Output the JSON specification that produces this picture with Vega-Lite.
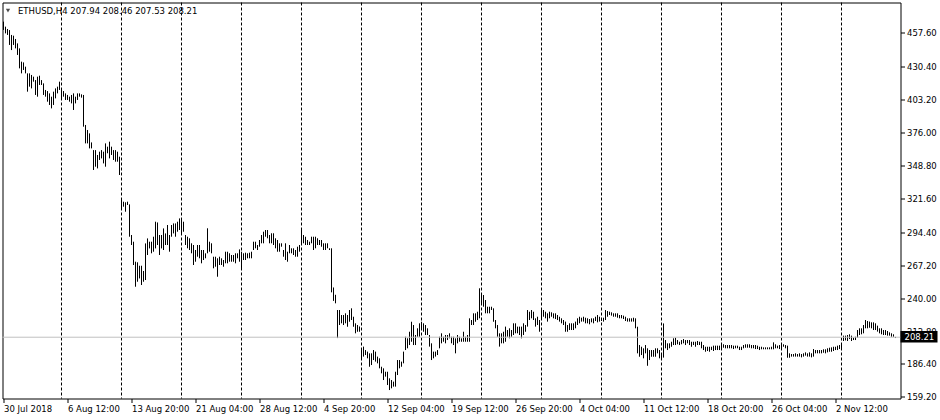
{
"$schema": "https://vega.github.io/schema/vega-lite/v6.json",
"width": 898,
"height": 396,
"autosize": {"type": "none"},
"padding": {"left": 2.5, "top": 2.5, "right": 39.5, "bottom": 21.5},
"background": "#ffffff",
"config": {
  "view": {"stroke": "#000000", "strokeWidth": 1},
  "font": "DejaVu Sans"
},
"resolve": {"axis": {"x": "independent", "y": "independent"}},
"layer": [
  {
    "data": {"values": [
{"i":0,"l":460.1,"h":466.9},{"i":1,"l":457.3,"h":462.8},{"i":2,"l":456.0,"h":460.9},{"i":3,"l":447.8,"h":460.0},{"i":4,"l":443.6,"h":456.0},{"i":5,"l":447.8,"h":455.4},{"i":6,"l":445.0,"h":452.7},{"i":7,"l":439.6,"h":449.1},{"i":8,"l":428.6,"h":445.0},{"i":9,"l":424.5,"h":434.1},
{"i":10,"l":427.3,"h":433.5},{"i":11,"l":424.5,"h":430.0},{"i":12,"l":409.5,"h":424.5},{"i":13,"l":413.6,"h":424.5},{"i":14,"l":412.2,"h":423.2},{"i":15,"l":417.7,"h":421.8},{"i":16,"l":406.8,"h":419.0},{"i":17,"l":405.4,"h":421.8},{"i":18,"l":415.0,"h":422.6},{"i":19,"l":415.0,"h":419.0},
{"i":20,"l":406.8,"h":416.3},{"i":21,"l":405.4,"h":410.9},{"i":22,"l":401.3,"h":410.0},{"i":23,"l":398.6,"h":408.1},{"i":24,"l":395.8,"h":405.4},{"i":25,"l":398.6,"h":409.5},{"i":26,"l":404.0,"h":412.2},{"i":27,"l":408.1,"h":413.6},{"i":28,"l":410.9,"h":417.7},{"i":29,"l":402.7,"h":410.9},
{"i":30,"l":405.4,"h":410.0},{"i":31,"l":402.7,"h":408.1},{"i":32,"l":402.7,"h":406.8},{"i":33,"l":401.3,"h":405.4},{"i":34,"l":399.9,"h":406.8},{"i":35,"l":394.5,"h":408.1},{"i":36,"l":399.9,"h":405.4},{"i":37,"l":402.7,"h":408.1},{"i":38,"l":405.4,"h":408.1},{"i":39,"l":404.6,"h":407.3},
{"i":40,"l":380.8,"h":406.8},{"i":41,"l":367.1,"h":382.2},{"i":42,"l":367.1,"h":378.1},{"i":43,"l":363.0,"h":375.3},{"i":44,"l":363.0,"h":367.9},{"i":45,"l":345.3,"h":361.6},{"i":46,"l":348.0,"h":361.6},{"i":47,"l":346.6,"h":357.6},{"i":48,"l":353.5,"h":360.3},{"i":49,"l":354.8,"h":361.6},
{"i":50,"l":350.7,"h":360.3},{"i":51,"l":348.0,"h":367.1},{"i":52,"l":359.0,"h":364.4},{"i":53,"l":354.8,"h":368.5},{"i":54,"l":357.6,"h":364.4},{"i":55,"l":353.5,"h":361.6},{"i":56,"l":352.1,"h":361.6},{"i":57,"l":352.1,"h":360.3},{"i":58,"l":341.2,"h":356.2},{"i":59,"l":313.8,"h":320.7},
{"i":60,"l":315.2,"h":319.3},{"i":61,"l":311.1,"h":318.8},{"i":62,"l":316.6,"h":319.3},{"i":63,"l":290.6,"h":317.1},{"i":64,"l":283.8,"h":292.0},{"i":65,"l":267.4,"h":286.5},{"i":66,"l":249.6,"h":270.1},{"i":67,"l":253.7,"h":269.6},{"i":68,"l":256.4,"h":266.8},{"i":69,"l":251.0,"h":266.8},
{"i":70,"l":253.7,"h":262.5},{"i":71,"l":255.1,"h":285.1},{"i":72,"l":275.6,"h":289.2},{"i":73,"l":281.0,"h":286.5},{"i":74,"l":277.0,"h":286.5},{"i":75,"l":278.3,"h":290.6},{"i":76,"l":281.0,"h":302.9},{"i":77,"l":283.8,"h":302.3},{"i":78,"l":275.6,"h":292.0},{"i":79,"l":281.0,"h":292.0},
{"i":80,"l":279.7,"h":297.4},{"i":81,"l":283.8,"h":293.3},{"i":82,"l":283.8,"h":300.2},{"i":83,"l":278.3,"h":292.0},{"i":84,"l":290.6,"h":300.2},{"i":85,"l":293.3,"h":301.5},{"i":86,"l":290.6,"h":301.5},{"i":87,"l":294.7,"h":302.9},{"i":88,"l":296.1,"h":305.6},{"i":89,"l":293.4,"h":305.0},
{"i":90,"l":294.7,"h":302.9},{"i":91,"l":283.8,"h":292.0},{"i":92,"l":281.1,"h":290.6},{"i":93,"l":279.7,"h":289.3},{"i":94,"l":277.0,"h":285.2},{"i":95,"l":267.4,"h":283.8},{"i":96,"l":270.1,"h":279.7},{"i":97,"l":274.2,"h":283.8},{"i":98,"l":272.9,"h":283.8},{"i":99,"l":268.8,"h":279.7},
{"i":100,"l":271.5,"h":279.7},{"i":101,"l":272.9,"h":277.0},{"i":102,"l":277.0,"h":297.5},{"i":103,"l":278.3,"h":286.5},{"i":104,"l":277.0,"h":285.2},{"i":105,"l":264.7,"h":274.2},{"i":106,"l":266.0,"h":274.2},{"i":107,"l":257.8,"h":272.9},{"i":108,"l":267.4,"h":274.2},{"i":109,"l":267.4,"h":272.9},
{"i":110,"l":266.0,"h":271.5},{"i":111,"l":268.8,"h":278.3},{"i":112,"l":268.8,"h":278.3},{"i":113,"l":270.1,"h":277.0},{"i":114,"l":270.1,"h":275.6},{"i":115,"l":270.1,"h":275.6},{"i":116,"l":268.8,"h":277.0},{"i":117,"l":272.9,"h":277.0},{"i":118,"l":270.1,"h":280.2},{"i":119,"l":264.7,"h":278.3},
{"i":120,"l":271.5,"h":277.0},{"i":121,"l":271.5,"h":277.5},{"i":122,"l":272.9,"h":277.0},{"i":123,"l":272.9,"h":277.5},{"i":124,"l":272.9,"h":278.3},{"i":125,"l":279.7,"h":286.5},{"i":126,"l":281.1,"h":286.5},{"i":127,"l":279.7,"h":283.8},{"i":128,"l":282.4,"h":287.9},{"i":129,"l":285.2,"h":292.0},
{"i":130,"l":285.2,"h":294.7},{"i":131,"l":290.6,"h":296.1},{"i":132,"l":289.3,"h":296.1},{"i":133,"l":285.2,"h":292.0},{"i":134,"l":285.2,"h":293.4},{"i":135,"l":283.8,"h":293.4},{"i":136,"l":281.1,"h":289.3},{"i":137,"l":278.3,"h":287.9},{"i":138,"l":278.3,"h":285.2},{"i":139,"l":282.4,"h":285.2},
{"i":140,"l":274.2,"h":279.7},{"i":141,"l":271.5,"h":285.2},{"i":142,"l":270.1,"h":278.3},{"i":143,"l":277.0,"h":283.8},{"i":144,"l":277.0,"h":281.1},{"i":145,"l":275.6,"h":281.1},{"i":146,"l":274.2,"h":279.7},{"i":147,"l":274.2,"h":282.4},{"i":148,"l":278.3,"h":283.8},{"i":149,"l":283.8,"h":296.1},
{"i":150,"l":285.2,"h":292.0},{"i":151,"l":283.8,"h":290.6},{"i":152,"l":283.8,"h":287.9},{"i":153,"l":283.8,"h":286.5},{"i":154,"l":285.2,"h":290.6},{"i":155,"l":279.7,"h":290.6},{"i":156,"l":281.1,"h":290.6},{"i":157,"l":283.8,"h":289.3},{"i":158,"l":283.8,"h":287.9},{"i":159,"l":282.4,"h":287.9},
{"i":160,"l":279.7,"h":285.2},{"i":161,"l":279.7,"h":285.2},{"i":162,"l":281.1,"h":285.2},{"i":163,"l":279.7,"h":281.1},{"i":164,"l":245.0,"h":281.1},{"i":165,"l":238.0,"h":249.0},{"i":166,"l":236.0,"h":243.0},{"i":167,"l":207.5,"h":230.5},{"i":168,"l":218.2,"h":230.5},{"i":169,"l":219.6,"h":226.4},
{"i":170,"l":218.2,"h":226.4},{"i":171,"l":219.6,"h":227.8},{"i":172,"l":216.8,"h":226.4},{"i":173,"l":220.9,"h":230.5},{"i":174,"l":222.3,"h":231.9},{"i":175,"l":216.8,"h":225.0},{"i":176,"l":211.4,"h":219.6},{"i":177,"l":212.7,"h":218.2},{"i":178,"l":212.7,"h":217.0},{"i":179,"l":189.5,"h":199.1},
{"i":180,"l":192.3,"h":200.5},{"i":181,"l":193.6,"h":197.7},{"i":182,"l":190.9,"h":196.4},{"i":183,"l":184.0,"h":195.0},{"i":184,"l":185.4,"h":195.0},{"i":185,"l":189.5,"h":197.7},{"i":186,"l":188.2,"h":196.4},{"i":187,"l":186.8,"h":192.3},{"i":188,"l":182.7,"h":190.9},{"i":189,"l":178.6,"h":184.0},
{"i":190,"l":173.1,"h":182.7},{"i":191,"l":175.9,"h":179.9},{"i":192,"l":169.0,"h":179.9},{"i":193,"l":164.9,"h":174.5},{"i":194,"l":166.3,"h":173.1},{"i":195,"l":167.7,"h":171.8},{"i":196,"l":167.7,"h":179.9},{"i":197,"l":177.2,"h":189.5},{"i":198,"l":182.7,"h":189.5},{"i":199,"l":184.0,"h":188.2},
{"i":200,"l":186.8,"h":196.4},{"i":201,"l":197.7,"h":208.6},{"i":202,"l":199.1,"h":207.3},{"i":203,"l":201.8,"h":212.7},{"i":204,"l":204.5,"h":220.9},{"i":205,"l":201.8,"h":218.2},{"i":206,"l":201.8,"h":210.0},{"i":207,"l":208.6,"h":215.5},{"i":208,"l":208.6,"h":219.6},{"i":209,"l":215.5,"h":220.9},
{"i":210,"l":212.7,"h":219.6},{"i":211,"l":210.0,"h":218.2},{"i":212,"l":210.0,"h":215.5},{"i":213,"l":200.5,"h":210.0},{"i":214,"l":189.5,"h":203.2},{"i":215,"l":190.9,"h":196.4},{"i":216,"l":192.3,"h":196.4},{"i":217,"l":193.6,"h":197.7},{"i":218,"l":199.1,"h":208.6},{"i":219,"l":203.2,"h":211.4},
{"i":220,"l":204.5,"h":208.6},{"i":221,"l":203.2,"h":210.0},{"i":222,"l":205.9,"h":210.0},{"i":223,"l":207.3,"h":211.4},{"i":224,"l":203.2,"h":208.6},{"i":225,"l":201.8,"h":208.6},{"i":226,"l":195.0,"h":207.3},{"i":227,"l":203.2,"h":210.0},{"i":228,"l":204.5,"h":208.6},{"i":229,"l":204.5,"h":207.3},
{"i":230,"l":204.5,"h":212.7},{"i":231,"l":204.5,"h":208.6},{"i":232,"l":204.5,"h":210.0},{"i":233,"l":204.5,"h":223.7},{"i":234,"l":218.2,"h":222.3},{"i":235,"l":218.2,"h":227.8},{"i":236,"l":220.9,"h":227.8},{"i":237,"l":222.3,"h":229.1},{"i":238,"l":223.7,"h":248.3},{"i":239,"l":234.6,"h":242.8},
{"i":240,"l":233.2,"h":242.8},{"i":241,"l":227.8,"h":238.7},{"i":242,"l":227.8,"h":233.2},{"i":243,"l":227.8,"h":233.2},{"i":244,"l":230.5,"h":233.2},{"i":245,"l":220.9,"h":231.9},{"i":246,"l":215.5,"h":222.3},{"i":247,"l":208.6,"h":218.2},{"i":248,"l":200.5,"h":211.4},{"i":249,"l":203.2,"h":211.4},
{"i":250,"l":203.2,"h":212.7},{"i":251,"l":204.5,"h":216.9},{"i":252,"l":208.6,"h":214.1},{"i":253,"l":207.3,"h":215.5},{"i":254,"l":208.6,"h":214.1},{"i":255,"l":210.0,"h":219.6},{"i":256,"l":211.4,"h":219.6},{"i":257,"l":211.4,"h":216.9},{"i":258,"l":210.0,"h":216.9},{"i":259,"l":207.3,"h":216.9},
{"i":260,"l":210.0,"h":219.6},{"i":261,"l":212.7,"h":218.2},{"i":262,"l":216.9,"h":230.5},{"i":263,"l":222.3,"h":229.1},{"i":264,"l":223.7,"h":230.5},{"i":265,"l":222.3,"h":229.1},{"i":266,"l":216.9,"h":223.7},{"i":267,"l":218.2,"h":225.0},{"i":268,"l":212.7,"h":222.3},{"i":269,"l":222.3,"h":231.9},
{"i":270,"l":225.0,"h":230.5},{"i":271,"l":223.7,"h":229.1},{"i":272,"l":221.0,"h":227.8},{"i":273,"l":223.7,"h":229.1},{"i":274,"l":225.0,"h":228.6},{"i":275,"l":223.7,"h":227.8},{"i":276,"l":223.1,"h":227.8},{"i":277,"l":222.3,"h":226.4},{"i":278,"l":221.0,"h":225.0},{"i":279,"l":219.6,"h":223.7},
{"i":280,"l":218.2,"h":222.3},{"i":281,"l":212.7,"h":221.0},{"i":282,"l":212.7,"h":218.2},{"i":283,"l":214.1,"h":219.6},{"i":284,"l":214.1,"h":219.6},{"i":285,"l":214.1,"h":219.6},{"i":286,"l":215.5,"h":221.0},{"i":287,"l":218.2,"h":223.7},{"i":288,"l":219.6,"h":225.0},{"i":289,"l":221.0,"h":224.2},
{"i":290,"l":221.0,"h":225.0},{"i":291,"l":219.6,"h":224.2},{"i":292,"l":219.6,"h":223.7},{"i":293,"l":218.8,"h":223.1},{"i":294,"l":220.4,"h":223.7},{"i":295,"l":219.6,"h":223.7},{"i":296,"l":221.5,"h":225.0},{"i":297,"l":220.4,"h":226.4},{"i":298,"l":221.0,"h":225.0},{"i":299,"l":221.5,"h":223.7},
{"i":300,"l":221.0,"h":224.2},{"i":301,"l":222.3,"h":230.5},{"i":302,"l":225.0,"h":229.7},{"i":303,"l":226.4,"h":229.1},{"i":304,"l":225.9,"h":228.6},{"i":305,"l":225.0,"h":227.8},{"i":306,"l":225.0,"h":227.8},{"i":307,"l":224.2,"h":227.8},{"i":308,"l":223.7,"h":226.4},{"i":309,"l":223.7,"h":226.4},
{"i":310,"l":223.1,"h":225.9},{"i":311,"l":221.5,"h":225.0},{"i":312,"l":221.0,"h":223.7},{"i":313,"l":221.0,"h":223.7},{"i":314,"l":221.0,"h":223.7},{"i":315,"l":221.0,"h":224.2},{"i":316,"l":215.5,"h":223.7},{"i":317,"l":195.0,"h":216.8},{"i":318,"l":192.2,"h":201.8},{"i":319,"l":193.6,"h":200.4},
{"i":320,"l":190.9,"h":199.1},{"i":321,"l":195.0,"h":201.8},{"i":322,"l":184.8,"h":199.1},{"i":323,"l":189.5,"h":197.7},{"i":324,"l":192.2,"h":197.7},{"i":325,"l":192.2,"h":197.7},{"i":326,"l":192.2,"h":199.1},{"i":327,"l":195.0,"h":199.1},{"i":328,"l":190.9,"h":197.7},{"i":329,"l":190.9,"h":193.6},
{"i":330,"l":191.5,"h":219.5},{"i":331,"l":199.1,"h":205.9},{"i":332,"l":197.7,"h":203.2},{"i":333,"l":199.1,"h":203.2},{"i":334,"l":200.4,"h":204.5},{"i":335,"l":201.8,"h":207.3},{"i":336,"l":201.8,"h":207.8},{"i":337,"l":202.4,"h":205.9},{"i":338,"l":201.8,"h":204.5},{"i":339,"l":202.4,"h":205.9},
{"i":340,"l":203.2,"h":206.7},{"i":341,"l":201.8,"h":205.9},{"i":342,"l":203.2,"h":205.9},{"i":343,"l":201.8,"h":205.9},{"i":344,"l":200.4,"h":204.5},{"i":345,"l":201.8,"h":204.5},{"i":346,"l":200.4,"h":204.5},{"i":347,"l":201.8,"h":205.1},{"i":348,"l":201.8,"h":204.5},{"i":349,"l":199.1,"h":204.5},
{"i":350,"l":197.7,"h":201.8},{"i":351,"l":196.3,"h":200.4},{"i":352,"l":196.9,"h":200.4},{"i":353,"l":196.3,"h":200.4},{"i":354,"l":197.7,"h":200.4},{"i":355,"l":196.9,"h":201.3},{"i":356,"l":197.7,"h":201.3},{"i":357,"l":197.7,"h":201.3},{"i":358,"l":197.7,"h":201.3},{"i":359,"l":199.1,"h":202.4},
{"i":360,"l":199.6,"h":202.4},{"i":361,"l":199.1,"h":201.8},{"i":362,"l":199.1,"h":201.8},{"i":363,"l":199.1,"h":201.8},{"i":364,"l":199.1,"h":201.8},{"i":365,"l":198.5,"h":201.3},{"i":366,"l":199.1,"h":201.3},{"i":367,"l":199.1,"h":201.3},{"i":368,"l":197.7,"h":200.4},{"i":369,"l":197.7,"h":200.4},
{"i":370,"l":199.1,"h":201.8},{"i":371,"l":199.6,"h":202.4},{"i":372,"l":199.6,"h":202.4},{"i":373,"l":199.6,"h":202.4},{"i":374,"l":199.1,"h":201.8},{"i":375,"l":199.1,"h":201.8},{"i":376,"l":198.5,"h":201.8},{"i":377,"l":198.5,"h":201.3},{"i":378,"l":197.7,"h":200.4},{"i":379,"l":198.3,"h":200.4},
{"i":380,"l":198.3,"h":199.9},{"i":381,"l":198.3,"h":199.9},{"i":382,"l":198.3,"h":199.9},{"i":383,"l":198.3,"h":199.9},{"i":384,"l":198.3,"h":200.4},{"i":385,"l":198.3,"h":204.0},{"i":386,"l":199.1,"h":202.4},{"i":387,"l":199.1,"h":201.3},{"i":388,"l":198.5,"h":201.8},{"i":389,"l":199.1,"h":202.4},
{"i":390,"l":200.4,"h":202.4},{"i":391,"l":199.1,"h":201.8},{"i":392,"l":191.4,"h":201.3},{"i":393,"l":191.4,"h":195.0},{"i":394,"l":192.3,"h":194.4},{"i":395,"l":192.3,"h":194.4},{"i":396,"l":192.3,"h":195.0},{"i":397,"l":192.3,"h":194.4},{"i":398,"l":192.3,"h":195.0},{"i":399,"l":191.7,"h":194.4},
{"i":400,"l":192.3,"h":195.0},{"i":401,"l":193.1,"h":195.8},{"i":402,"l":192.3,"h":195.0},{"i":403,"l":192.3,"h":195.8},{"i":404,"l":191.7,"h":195.0},{"i":405,"l":192.3,"h":198.5},{"i":406,"l":195.0,"h":197.7},{"i":407,"l":195.0,"h":197.7},{"i":408,"l":195.0,"h":197.7},{"i":409,"l":195.0,"h":197.7},
{"i":410,"l":195.5,"h":198.3},{"i":411,"l":195.0,"h":198.3},{"i":412,"l":195.8,"h":199.1},{"i":413,"l":196.3,"h":199.6},{"i":414,"l":196.3,"h":199.9},{"i":415,"l":196.9,"h":200.4},{"i":416,"l":197.7,"h":200.4},{"i":417,"l":197.7,"h":201.3},{"i":418,"l":198.5,"h":201.8},{"i":419,"l":199.1,"h":203.2},
{"i":420,"l":205.1,"h":209.5},{"i":421,"l":205.6,"h":209.5},{"i":422,"l":205.1,"h":210.0},{"i":423,"l":206.7,"h":210.6},{"i":424,"l":205.1,"h":209.5},{"i":425,"l":205.9,"h":207.8},{"i":426,"l":205.9,"h":208.6},{"i":427,"l":207.8,"h":214.1},{"i":428,"l":210.0,"h":215.5},{"i":429,"l":210.6,"h":215.5},
{"i":430,"l":211.4,"h":218.2},{"i":431,"l":215.5,"h":222.3},{"i":432,"l":215.5,"h":221.5},{"i":433,"l":216.0,"h":221.0},{"i":434,"l":215.5,"h":220.4},{"i":435,"l":214.1,"h":220.4},{"i":436,"l":214.1,"h":219.6},{"i":437,"l":212.8,"h":217.7},{"i":438,"l":211.4,"h":215.5},{"i":439,"l":210.6,"h":215.5},
{"i":440,"l":210.0,"h":214.1},{"i":441,"l":210.0,"h":214.1},{"i":442,"l":209.5,"h":213.3},{"i":443,"l":209.5,"h":212.2},{"i":444,"l":208.6,"h":211.4},{"i":445,"l":208.6,"h":210.6},{"i":446,"l":207.53,"h":208.46}
    ]},
    "mark": {"type": "rule", "color": "#000000", "strokeWidth": 1},
    "encoding": {
      "x": {"field": "i", "type": "quantitative", "scale": {"domain": [-0.5, 448.5], "nice": false, "zero": false},
        "axis": {"title": null, "orient": "bottom", "domain": false, "grid": false, "ticks": true, "tickSize": 4, "tickColor": "#000000",
          "values": [0,32,64,96,128,160,192,224,256,288,320,352,384,416],
          "labelExpr": "['30 Jul 2018','6 Aug 12:00','13 Aug 20:00','21 Aug 04:00','28 Aug 12:00','4 Sep 20:00','12 Sep 04:00','19 Sep 12:00','26 Sep 20:00','4 Oct 04:00','11 Oct 12:00','18 Oct 20:00','26 Oct 04:00','2 Nov 12:00'][round(datum.value/32)]",
          "labelAlign": "left", "labelBaseline": "top", "labelPadding": 2, "labelFont": "DejaVu Sans", "labelFontSize": 8.5, "labelColor": "#000000"}},
      "y": {"field": "l", "type": "quantitative", "scale": {"domain": [157.97, 482.6], "nice": false, "zero": false},
        "axis": {"title": null, "orient": "right", "domain": false, "grid": false, "ticks": true, "tickSize": 4, "tickColor": "#000000",
          "values": [159.2,186.4,212.8,240,267.2,294.4,321.6,348.8,376,403.2,430.4,457.6], "format": ".2f",
          "labelPadding": 2, "labelFont": "DejaVu Sans", "labelFontSize": 8.5, "labelColor": "#000000"}},
      "y2": {"field": "h"}
    }
  },
  {
    "data": {"values": [{"g":29},{"g":59},{"g":89},{"g":119},{"g":149},{"g":179},{"g":209},{"g":239},{"g":269},{"g":299},{"g":329},{"g":359},{"g":389},{"g":419}]},
    "mark": {"type": "rule", "color": "#000000", "strokeWidth": 1, "strokeDash": [3, 2]},
    "encoding": {
      "x": {"field": "g", "type": "quantitative", "axis": null}
    }
  },
  {
    "data": {"values": [{"bid": 208.21}]},
    "mark": {"type": "rule", "color": "#c0c0c0", "strokeWidth": 1},
    "encoding": {
      "y": {"field": "bid", "type": "quantitative", "axis": null}
    }
  },
  {
    "data": {"values": [{"sym": "ETHUSD,H4  207.94 208.46 207.53 208.21"}]},
    "mark": {"type": "text", "align": "left", "baseline": "alphabetic", "fontSize": 8.5, "font": "DejaVu Sans", "color": "#000000", "clip": false},
    "encoding": {
      "x": {"datum": 7.25, "type": "quantitative", "axis": null},
      "y": {"datum": 472.8, "type": "quantitative", "axis": null},
      "text": {"field": "sym"}
    }
  },
  {
    "data": {"values": [{"m": 1}]},
    "mark": {"type": "point", "shape": "triangle-down", "filled": true, "color": "#000000", "size": 18, "clip": false},
    "encoding": {
      "x": {"datum": 2.25, "type": "quantitative", "axis": null},
      "y": {"datum": 476.0, "type": "quantitative", "axis": null}
    }
  },
  {
    "data": {"values": [{"bid": 208.21}]},
    "mark": {"type": "rect", "color": "#000000", "clip": false},
    "encoding": {
      "x": {"datum": 448.5, "type": "quantitative", "axis": null},
      "x2": {"datum": 467},
      "y": {"datum": 213.4, "type": "quantitative", "axis": null},
      "y2": {"datum": 203.9}
    }
  },
  {
    "data": {"values": [{"bid": 208.21}]},
    "mark": {"type": "text", "align": "left", "baseline": "middle", "fontSize": 8.5, "font": "DejaVu Sans", "color": "#ffffff", "clip": false},
    "encoding": {
      "x": {"datum": 450.5, "type": "quantitative", "axis": null},
      "y": {"field": "bid", "type": "quantitative", "axis": null},
      "text": {"field": "bid", "type": "quantitative", "format": ".2f"}
    }
  }
]
}
